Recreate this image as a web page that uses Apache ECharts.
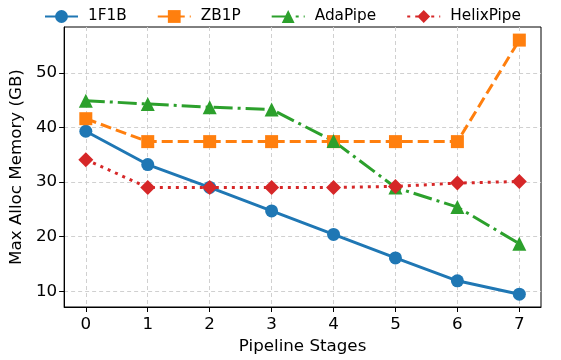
<!DOCTYPE html>
<html>
<head>
<meta charset="utf-8">
<script src="https://cdn.jsdelivr.net/npm/echarts@6/dist/echarts.min.js"></script>
<style>
  html, body { margin: 0; padding: 0; background: #fff; }
  #chart { width: 561px; height: 360px; }
</style>
</head>
<body>
<div id="chart"></div>
<script>
// pipeline stages
const stages = [0, 1, 2, 3, 4, 5, 6, 7]

// max alloc memory (GB) per stage
const f1b = [39.3, 33.2, 29.0, 24.7, 20.4, 16.1, 11.9, 9.45]
const zb1p = [41.6, 37.4, 37.4, 37.4, 37.4, 37.4, 37.4, 56.0]
const adaPipe = [44.9, 44.3, 43.7, 43.3, 37.5, 29.0, 25.4, 18.7]
const helixPipe = [34.1, 29.0, 29.0, 29.0, 29.0, 29.2, 29.8, 30.1]

const yTicks = [10, 20, 30, 40, 50]

const font = 'DejaVu Sans'
const axisFont = { fontFamily: font, fontSize: 16.7, color: '#000' }

const mkSeries = (name, data, color, symbol, size, dash) => ({
  name,
  type: 'line',
  data: stages.map((s, i) => [s, data[i]]),
  symbol,
  symbolSize: size,
  lineStyle: { color, width: 3, type: dash },
  itemStyle: { color },
  z: 3
})

const chart = echarts.init(document.getElementById('chart'))
chart.setOption({
  animation: false,
  textStyle: { fontFamily: font },
  legend: {
    top: 4,
    left: 39,
    itemWidth: 33,
    itemHeight: 16,
    itemGap: 30,
    textStyle: { fontFamily: font, fontSize: 15.3, color: '#000', padding: [0, 0, 0, 5] },
    data: ['1F1B', 'ZB1P', 'AdaPipe', 'HelixPipe']
  },
  grid: {
    left: 63, right: 20, top: 27, bottom: 51,
    show: true, borderColor: '#000', borderWidth: 1
  },
  xAxis: {
    type: 'value',
    min: -0.35,
    max: 7.35,
    name: 'Pipeline Stages',
    nameLocation: 'middle',
    nameGap: 31,
    nameTextStyle: axisFont,
    axisLine: { onZero: false, lineStyle: { color: '#000' } },
    axisTick: { show: true, length: 5, lineStyle: { color: '#000' }, customValues: stages },
    axisLabel: Object.assign({ margin: 9, customValues: stages }, axisFont),
    splitLine: { show: true, lineStyle: { color: '#d0d0d0', type: [4, 3] } }
  },
  yAxis: {
    type: 'value',
    min: 7.1,
    max: 58.4,
    name: 'Max Alloc Memory (GB)',
    nameLocation: 'middle',
    nameGap: 34,
    nameTextStyle: axisFont,
    axisLine: { show: true, onZero: false, lineStyle: { color: '#000' } },
    axisTick: { show: true, length: 5, lineStyle: { color: '#000' }, customValues: yTicks },
    axisLabel: Object.assign({ margin: 7, customValues: yTicks }, axisFont),
    splitLine: { show: true, lineStyle: { color: '#d0d0d0', type: [4, 3] } }
  },
  series: [
    mkSeries('1F1B', f1b, '#1f77b4', 'circle', 13, 'solid'),
    mkSeries('ZB1P', zb1p, '#ff7f0e', 'rect', 13, [11, 5]),
    mkSeries('AdaPipe', adaPipe, '#2ca02c', 'triangle', 14, [19, 5, 3, 5]),
    mkSeries('HelixPipe', helixPipe, '#d62728', 'diamond', 15, [3, 5])
  ]
})
</script>
</body>
</html>
